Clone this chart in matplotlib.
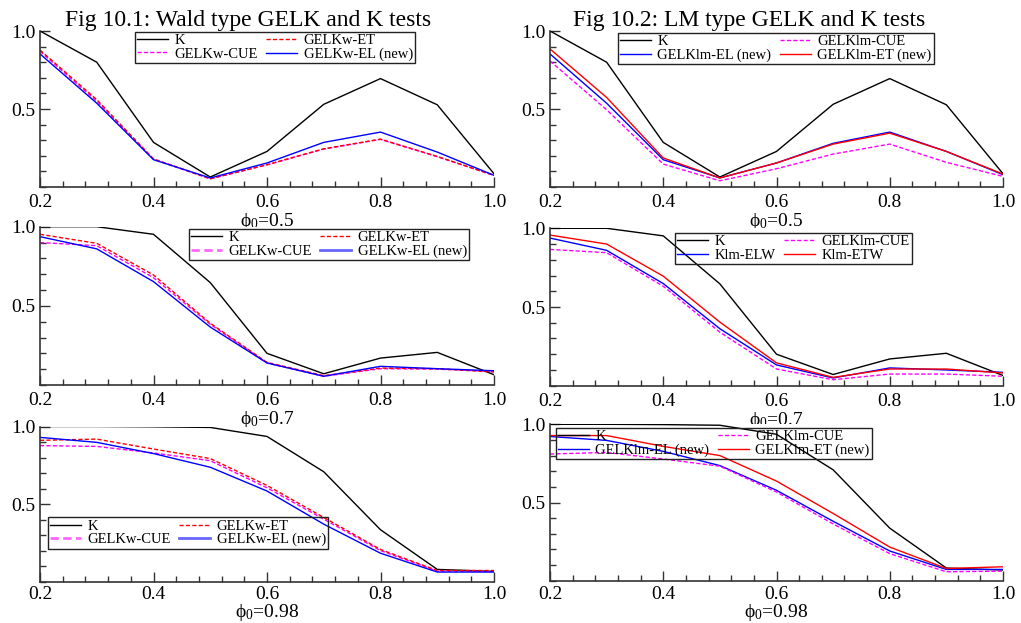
import numpy as np
import matplotlib
matplotlib.use("Agg")
import matplotlib.pyplot as plt
from matplotlib.ticker import MultipleLocator

plt.rcParams['font.family'] = ['Liberation Serif', 'DejaVu Serif']
plt.rcParams['mathtext.fontset'] = 'custom'
plt.rcParams['mathtext.rm'] = 'Liberation Serif'

x = [0.2, 0.3, 0.4, 0.5, 0.6, 0.7, 0.8, 0.9, 1.0]

# phi0 = 0.5
k_05 = [1.0, 0.80, 0.286, 0.064, 0.228, 0.53, 0.695, 0.527, 0.085]
w_et_05 = [0.878, 0.56, 0.18, 0.053, 0.143, 0.245, 0.307, 0.196, 0.075]
w_cue_05 = [0.87, 0.55, 0.178, 0.052, 0.142, 0.243, 0.305, 0.194, 0.074]
w_el_05 = [0.853, 0.537, 0.175, 0.058, 0.154, 0.286, 0.352, 0.224, 0.075]
lm_cue_05 = [0.808, 0.495, 0.147, 0.04, 0.117, 0.211, 0.275, 0.158, 0.068]
lm_el_05 = [0.853, 0.537, 0.175, 0.058, 0.154, 0.28, 0.352, 0.228, 0.079]
lm_et_05 = [0.885, 0.574, 0.186, 0.058, 0.154, 0.275, 0.345, 0.228, 0.083]

# phi0 = 0.7
k_07 = [1.0, 1.0, 0.952, 0.647, 0.2, 0.071, 0.17, 0.206, 0.065]
w_et_07 = [0.952, 0.895, 0.695, 0.39, 0.143, 0.059, 0.107, 0.103, 0.082]
w_cue_07 = [0.90, 0.88, 0.678, 0.384, 0.139, 0.055, 0.103, 0.10, 0.086]
w_el_07 = [0.937, 0.86, 0.653, 0.366, 0.139, 0.055, 0.118, 0.103, 0.09]
lm_cue_07 = [0.866, 0.845, 0.632, 0.34, 0.106, 0.038, 0.074, 0.074, 0.06]
lm_elw_07 = [0.938, 0.86, 0.649, 0.362, 0.132, 0.049, 0.113, 0.10, 0.085]
lm_etw_07 = [0.957, 0.9, 0.696, 0.404, 0.145, 0.053, 0.106, 0.106, 0.081]

# phi0 = 0.98
k_098 = [1.0, 1.0, 0.998, 0.994, 0.936, 0.709, 0.336, 0.081, 0.068]
w_et_098 = [0.911, 0.919, 0.855, 0.794, 0.621, 0.415, 0.209, 0.074, 0.074]
w_cue_098 = [0.877, 0.872, 0.83, 0.78, 0.606, 0.404, 0.202, 0.07, 0.068]
w_el_098 = [0.93, 0.898, 0.826, 0.738, 0.585, 0.372, 0.185, 0.064, 0.064]
lm_cue_098 = [0.81, 0.82, 0.778, 0.732, 0.567, 0.363, 0.173, 0.057, 0.061]
lm_el_098 = [0.922, 0.897, 0.827, 0.736, 0.578, 0.38, 0.19, 0.072, 0.072]
lm_et_098 = [0.928, 0.928, 0.859, 0.8, 0.637, 0.43, 0.215, 0.078, 0.089]

W, H = 1021, 623
fig = plt.figure(figsize=(W / 100, H / 100), dpi=100)


def make_ax(left, top, right, bottom, xpad=5):
    ax = fig.add_axes([left / W, 1 - bottom / H, (right - left) / W, (bottom - top) / H])
    ax.set_xlim(0.2, 1.0)
    ax.set_ylim(0.0, 1.0)
    ax.spines['top'].set_visible(False)
    ax.spines['right'].set_visible(False)
    for s in ['left', 'bottom']:
        ax.spines[s].set_color('#333333')
        ax.spines[s].set_linewidth(1.2)
    ax.xaxis.set_minor_locator(MultipleLocator(0.04))
    ax.yaxis.set_minor_locator(MultipleLocator(0.1))
    ax.set_yticks([0.5, 1.0])
    ax.set_yticklabels(['0.5', '1.0'])
    ax.set_xticks([0.2, 0.4, 0.6, 0.8, 1.0])
    ax.set_xticklabels(['0.2', '0.4', '0.6', '0.8', '1.0'])
    ax.tick_params(which='major', direction='in', length=7, width=1, color='#333333', labelsize=14)
    ax.tick_params(which='minor', direction='in', length=4, width=1, color='#333333')
    ax.tick_params(axis='x', pad=xpad)
    ax.tick_params(axis='y', pad=3)
    return ax


def add_legend(ax, x0, y0, thick=False):
    leg = ax.legend(ncol=2, loc='upper left', bbox_to_anchor=(x0, y0), fontsize=10.5,
                    frameon=True, fancybox=False, framealpha=1, edgecolor='#222222',
                    handlelength=2.1, handletextpad=0.45, columnspacing=0.6,
                    labelspacing=0.0, borderpad=0.15, borderaxespad=0)
    leg.get_frame().set_facecolor('none')
    leg.get_frame().set_linewidth(1.0)
    if thick:
        lines = leg.get_lines()
        for i in [1, 3]:
            lines[i].set_linewidth(2)
            lines[i].set_alpha(0.6)
    return leg


dash = (0, (3, 1.6))
lw = 1.0

# Fig 10.1 top
ax1 = make_ax(40, 31, 494, 187)
ax1.plot(x, k_05, color='black', lw=lw, label='K')
ax1.plot(x, w_cue_05, color='magenta', lw=lw, ls=dash, label='GELKw-CUE')
ax1.plot(x, w_et_05, color='red', lw=lw, ls=dash, label='GELKw-ET')
ax1.plot(x, w_el_05, color='blue', lw=lw, label='GELKw-EL (new)')
add_legend(ax1, 0.209, 0.994)
ax1.text(0.458, 1.035, 'Fig 10.1: Wald type GELK and K tests', transform=ax1.transAxes,
         ha='center', va='baseline', fontsize=17)
ax1.set_xlabel(r'$\mathregular{ϕ_0}$=0.5', fontsize=14, labelpad=0)

# Fig 10.2 top
ax2 = make_ax(550, 31, 1003, 187)
ax2.plot(x, k_05, color='black', lw=lw, label='K')
ax2.plot(x, lm_el_05, color='blue', lw=lw, label='GELKlm-EL (new)')
ax2.plot(x, lm_cue_05, color='magenta', lw=lw, ls=dash, label='GELKlm-CUE')
ax2.plot(x, lm_et_05, color='red', lw=lw, label='GELKlm-ET (new)')
add_legend(ax2, 0.150, 0.987)
ax2.text(0.44, 1.035, 'Fig 10.2: LM type GELK and K tests', transform=ax2.transAxes,
         ha='center', va='baseline', fontsize=17)
ax2.set_xlabel(r'$\mathregular{ϕ_0}$=0.5', fontsize=14, labelpad=0)

# middle row
ax3 = make_ax(40, 226.7, 494, 385)
ax3.plot(x, k_07, color='black', lw=lw, label='K')
ax3.plot(x, w_cue_07, color='magenta', lw=lw, ls=dash, label='GELKw-CUE')
ax3.plot(x, w_et_07, color='red', lw=lw, ls=dash, label='GELKw-ET')
ax3.plot(x, w_el_07, color='blue', lw=lw, label='GELKw-EL (new)')
add_legend(ax3, 0.328, 0.985, thick=True)
ax3.set_xlabel(r'$\mathregular{ϕ_0}$=0.7', fontsize=14, labelpad=0)

ax4 = make_ax(550, 228.3, 1003, 385.7)
ax4.plot(x, k_07, color='black', lw=lw, label='K')
ax4.plot(x, lm_elw_07, color='blue', lw=lw, label='Klm-ELW')
ax4.plot(x, lm_cue_07, color='magenta', lw=lw, ls=dash, label='GELKlm-CUE')
ax4.plot(x, lm_etw_07, color='red', lw=lw, label='Klm-ETW')
add_legend(ax4, 0.276, 0.970)
ax4.set_xlabel(r'$\mathregular{ϕ_0}$=0.7', fontsize=14, labelpad=0)

# bottom row
ax5 = make_ax(40, 426.5, 494, 582, xpad=3)
ax5.plot(x, k_098, color='black', lw=lw, label='K')
ax5.plot(x, w_cue_098, color='magenta', lw=lw, ls=dash, label='GELKw-CUE')
ax5.plot(x, w_et_098, color='red', lw=lw, ls=dash, label='GELKw-ET')
ax5.plot(x, w_el_098, color='blue', lw=lw, label='GELKw-EL (new)')
add_legend(ax5, 0.0176, 0.415, thick=True)
ax5.set_xlabel(r'$\mathregular{ϕ_0}$=0.98', fontsize=14, labelpad=-1)

ax6 = make_ax(550, 424.3, 1003, 580.7, xpad=4)
ax6.plot(x, k_098, color='black', lw=lw, label='K')
ax6.plot(x, lm_el_098, color='blue', lw=lw, label='GELKlm-EL (new)')
ax6.plot(x, lm_cue_098, color='magenta', lw=lw, ls=dash, label='GELKlm-CUE')
ax6.plot(x, lm_et_098, color='red', lw=lw, label='GELKlm-ET (new)')
add_legend(ax6, 0.013, 0.976)
ax6.set_xlabel(r'$\mathregular{ϕ_0}$=0.98', fontsize=14, labelpad=-1)

fig.savefig('out.png', dpi=100)
